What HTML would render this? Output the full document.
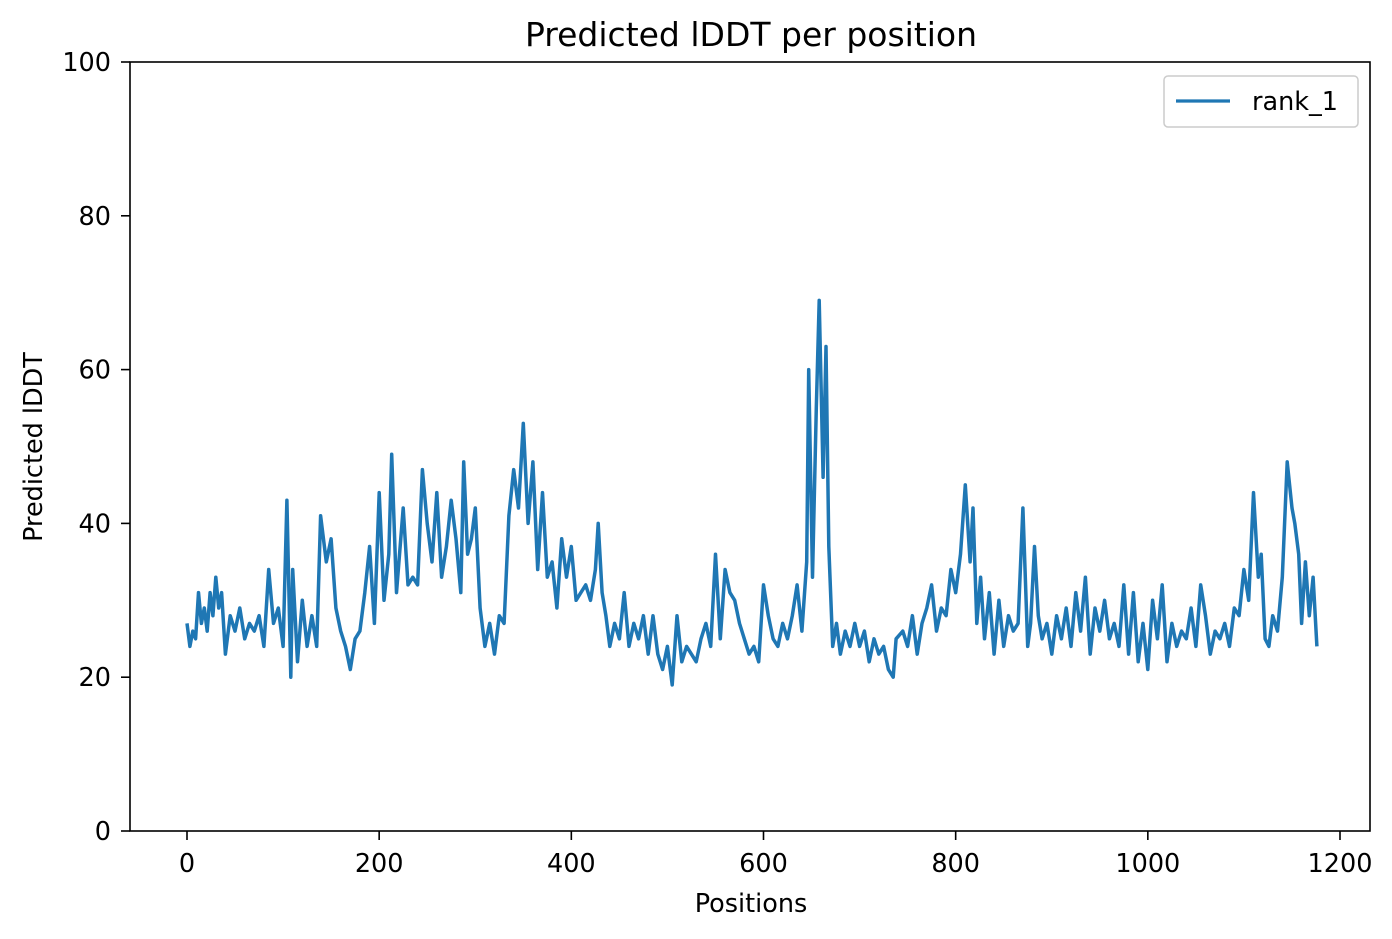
<!DOCTYPE html>
<html><head><meta charset="utf-8"><style>
html,body{margin:0;padding:0;background:#fff;}
svg{display:block;font-family:"DejaVu Sans","Liberation Sans",sans-serif;}
</style></head><body>
<svg id="chart" width="1392" height="939">
<rect x="0" y="0" width="1392" height="939" fill="#fff"/>
<text x="751" y="46" font-size="33" text-anchor="middle" fill="#000">Predicted lDDT per position</text>
<g id="yticks"></g><g id="xticks"></g>
<g id="plot"></g>
<rect x="130" y="62" width="1240" height="769" fill="none" stroke="#000" stroke-width="1.6"/>
<text x="751" y="912" font-size="25.5" text-anchor="middle">Positions</text>
<text transform="translate(42,447) rotate(-90)" font-size="25.5" text-anchor="middle">Predicted lDDT</text>
<g>
<rect x="1164" y="76" width="194" height="51" rx="4" fill="#fff" stroke="#ccc" stroke-width="1.5"/>
<line x1="1176" y1="101" x2="1230" y2="101" stroke="#1f77b4" stroke-width="3.2"/>
<text x="1252" y="110" font-size="25.5">rank_1</text>
</g>
</svg>
<script>
const xTicks=[0,200,400,600,800,1000,1200];
const yTicks=[0,20,40,60,80,100];
const positions=[0,3,6,9,12,15,18,21,24,27,30,33,36,40,45,50,55,60,65,70,75,80,85,90,95,100,104,108,110,115,120,125,130,135,139,145,150,155,160,165,170,175,180,185,190,195,200,205,210,213,218,225,230,235,240,245,250,255,260,265,270,275,280,285,288,292,296,300,305,310,315,320,325,330,335,340,345,350,355,360,365,370,375,380,385,390,395,400,405,410,415,420,425,428,432,436,440,445,450,455,460,465,470,475,480,485,490,495,500,505,510,515,520,525,530,535,540,545,550,555,560,565,570,575,580,585,590,595,600,605,610,615,620,625,630,635,640,645,647,651,655,658,662,665,668,672,676,680,685,690,695,700,705,710,715,720,725,730,735,738,745,750,755,760,765,770,775,780,785,790,795,800,805,810,815,818,822,826,830,835,840,845,850,855,860,865,870,875,878,882,886,890,895,900,905,910,915,920,925,930,935,940,945,950,955,960,965,970,975,980,985,990,995,1000,1005,1010,1015,1020,1025,1030,1035,1040,1045,1050,1055,1060,1065,1070,1075,1080,1085,1090,1095,1100,1105,1110,1115,1118,1122,1126,1130,1135,1140,1145,1150,1153,1157,1160,1164,1168,1172,1176,1179];
const plddt=[27,24,26,25,31,27,29,26,31,28,33,29,31,23,28,26,29,25,27,26,28,24,34,27,29,24,43,20,34,22,30,24,28,24,41,35,38,29,26,24,21,25,26,31,37,27,44,30,36,49,31,42,32,33,32,47,40,35,44,33,37,43,38,31,48,36,38,42,29,24,27,23,28,27,41,47,42,53,40,48,34,44,33,35,29,38,33,37,30,31,32,30,34,40,31,28,24,27,25,31,24,27,25,28,23,28,23,21,24,19,28,22,24,23,22,25,27,24,36,25,34,31,30,27,25,23,24,22,32,28,25,24,27,25,28,32,26,35,60,33,55,69,46,63,37,24,27,23,26,24,27,24,26,22,25,23,24,21,20,25,26,24,28,23,27,29,32,26,29,28,34,31,36,45,35,42,27,33,25,31,23,30,24,28,26,27,42,24,27,37,28,25,27,23,28,25,29,24,31,26,33,23,29,26,30,25,27,24,32,23,31,22,27,21,30,25,32,22,27,24,26,25,29,24,32,28,23,26,25,27,24,29,28,34,30,44,33,36,25,24,28,26,33,48,42,40,36,27,35,28,33,24];
const NS='http://www.w3.org/2000/svg';
const X0=130,X1=1370,Y0=831,Y1=62;
function xs(v){return 187+(v/1200)*(1340-187);}
function ys(v){return Y0-(v/100)*(Y0-Y1);}
const yg=document.getElementById('yticks'),xg=document.getElementById('xticks'),pg=document.getElementById('plot');
yTicks.forEach(t=>{
  const l=document.createElementNS(NS,'line');
  l.setAttribute('x1',X0-9);l.setAttribute('x2',X0);l.setAttribute('y1',ys(t));l.setAttribute('y2',ys(t));l.setAttribute('stroke','#000');l.setAttribute('stroke-width','1.6');
  
  
  yg.appendChild(l);
  const tx=document.createElementNS(NS,'text');
  tx.setAttribute('x',X0-19);tx.setAttribute('y',ys(t)+9);tx.setAttribute('font-size','25.5');tx.setAttribute('text-anchor','end');tx.textContent=t;
  
  
  yg.appendChild(tx);
});
xTicks.forEach(t=>{
  const l=document.createElementNS(NS,'line');
  l.setAttribute('x1',xs(t));l.setAttribute('x2',xs(t));l.setAttribute('y1',Y0);l.setAttribute('y2',Y0+9);l.setAttribute('stroke','#000');l.setAttribute('stroke-width','1.6');
  
  
  xg.appendChild(l);
  const tx=document.createElementNS(NS,'text');
  tx.setAttribute('x',xs(t));tx.setAttribute('y',Y0+41);tx.setAttribute('font-size','25.5');tx.setAttribute('text-anchor','middle');tx.textContent=t;
  
  
  xg.appendChild(tx);
});
const pts=positions.map((p,i)=>xs(p).toFixed(1)+','+ys(plddt[i]).toFixed(1)).join(' ');
const pl=document.createElementNS(NS,'polyline');
pl.setAttribute('points',pts);pl.setAttribute('fill','none');pl.setAttribute('stroke','#1f77b4');pl.setAttribute('stroke-width','3.5');pl.setAttribute('stroke-linejoin','round');


pg.appendChild(pl);
</script>
</body></html>
